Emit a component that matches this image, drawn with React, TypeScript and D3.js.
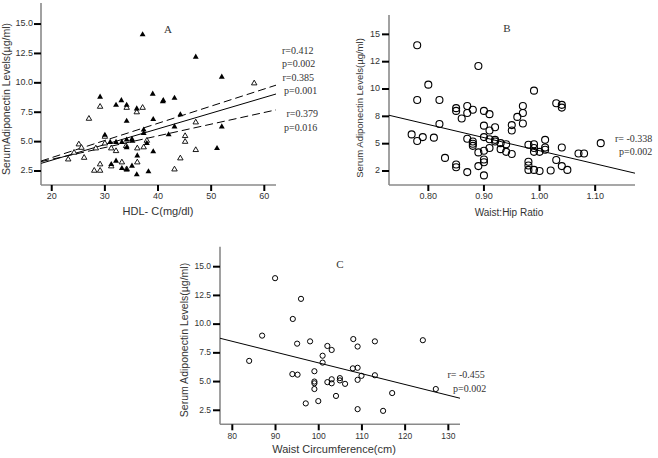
import React from 'react';
import * as d3 from 'd3';

// ---------- Panel A: HDL-C vs adiponectin ----------
const hdlFilled: [number, number][] = [
  [37.1, 14.1], [29.1, 8.8], [32.1, 8.1], [33.1, 8.5], [34.1, 8.1], [36.0, 7.8], [39.0, 9.05],
  [41.0, 8.5], [40.9, 8.4], [47.1, 12.2], [52.0, 10.5], [43.1, 8.7], [44.2, 7.3], [34.1, 6.75],
  [39.1, 6.9], [30.0, 5.56], [37.3, 6.0], [37.3, 5.7], [42.0, 5.6], [31.0, 4.95], [32.1, 4.95],
  [33.2, 4.95], [34.1, 5.15], [35.1, 5.2], [34.1, 4.5], [37.9, 4.85], [39.1, 4.15], [31.2, 3.07],
  [32.1, 3.35], [33.2, 2.73], [34.1, 2.6], [35.1, 2.93], [36.1, 3.8], [36.0, 2.2], [38.2, 2.45],
  [43.1, 6.27], [52.0, 6.27], [51.1, 4.43], [35.2, 5.05],
];
const hdlOpen: [number, number][] = [
  [29.1, 7.97], [34.1, 7.88], [36.0, 7.5], [37.1, 7.88], [27.0, 6.95], [58.1, 9.96], [30.0, 5.42],
  [34.0, 4.63], [37.9, 5.08], [25.1, 4.77], [25.6, 4.48], [24.2, 4.06], [23.1, 3.49],
  [26.1, 3.63], [28.3, 4.43], [30.0, 4.85], [31.2, 4.43], [32.1, 4.2], [36.1, 4.43], [37.3, 4.52],
  [29.1, 3.07], [28.0, 2.53], [29.1, 2.53], [31.2, 2.9], [33.2, 3.24], [34.1, 2.66], [36.1, 3.24],
  [47.1, 6.64], [45.1, 5.48], [45.1, 4.99], [47.1, 4.29], [44.2, 3.58], [43.1, 2.64],
];
const regAUpperX = [18, 62.2];
const regAUpperY = [3.35, 9.8];
const regASolidX = [18, 62.2];
const regASolidY = [3.15, 9.05];
const regALowerX = [18, 62.2];
const regALowerY = [3.3, 7.7];
const aXTicks = [20, 30, 40, 50, 60];
const aYTicks = [2.5, 5, 7.5, 10, 12.5, 15];
const aYTickLabels = ['2.5', '5.0', '7.5', '10.0', '12.5', '15.0'];
const aStats = ['r=0.412', 'p=0.002', 'r=0.385', 'p=0.001', 'r=0.379', 'p=0.016'];

// ---------- Panel B: Waist:Hip ratio ----------
const waistHip: [number, number][] = [
  [0.78, 14.0], [0.89, 12.1], [0.80, 10.4], [0.78, 9.0], [0.82, 9.0], [0.85, 8.25], [0.85, 8.0],
  [0.87, 8.45], [0.88, 8.1], [0.87, 7.8], [0.90, 8.0], [0.91, 7.7], [0.86, 7.3], [0.99, 9.85],
  [1.03, 8.7], [1.04, 8.55], [1.04, 8.3], [0.97, 8.45], [0.97, 7.8], [0.96, 7.45], [0.77, 5.85],
  [0.78, 5.25], [0.79, 5.6], [0.81, 5.55], [0.82, 6.8], [0.83, 3.7], [0.85, 3.1], [0.85, 2.85],
  [0.87, 2.4], [0.87, 5.45], [0.88, 5.2], [0.88, 5.0], [0.88, 4.8], [0.89, 4.2], [0.89, 2.95],
  [0.90, 2.1], [0.90, 3.55], [0.90, 3.3], [0.90, 4.35], [0.91, 4.6], [0.90, 6.65], [0.91, 6.2],
  [0.92, 6.5], [0.90, 5.6], [0.91, 5.4], [0.92, 5.35], [0.97, 6.85], [0.95, 6.7], [0.95, 6.2],
  [0.92, 5.2], [0.93, 5.05], [0.94, 4.95], [0.93, 4.5], [0.94, 4.25], [0.95, 4.05], [0.98, 4.9],
  [0.99, 4.95], [0.99, 4.6], [0.99, 4.25], [1.0, 4.25], [1.01, 5.35], [1.01, 4.65], [1.01, 4.45],
  [0.98, 3.35], [0.98, 3.0], [0.99, 2.6], [0.98, 2.6], [1.0, 2.5], [1.02, 2.55], [1.03, 3.5],
  [1.04, 2.95], [1.05, 2.6], [1.04, 4.65], [1.07, 4.1], [1.08, 4.1], [1.11, 5.05],
];
const regBX = [0.7293, 1.1716];
const regBY = [7.6, 2.3];
const bXTicks = [0.8, 0.9, 1.0, 1.1];
const bXTickLabels = ['0.80', '0.90', '1.00', '1.10'];
const bYTicks = [2.5, 5, 7.5, 10, 12.5, 15];
const bYTickLabels = ['2', '5', '8', '10', '12', '15'];
const bStats = ['r= -0.338', 'p=0.002'];

// ---------- Panel C: Waist circumference ----------
const waistCirc: [number, number][] = [
  [89.9, 14.0], [95.9, 12.2], [94.0, 10.45], [86.9, 9.0], [95.0, 8.3], [98.0, 8.5], [102.0, 8.1],
  [108.0, 8.7], [113.0, 8.5], [124.1, 8.6], [109.0, 8.05], [103.0, 7.75], [83.9, 6.8],
  [100.9, 7.25], [100.9, 6.65], [93.9, 5.65], [95.1, 5.6], [99.0, 5.9], [99.0, 5.0], [99.0, 4.85],
  [99.0, 4.35], [102.0, 4.95], [103.0, 5.2], [103.0, 4.85], [97.0, 3.1], [99.9, 3.3],
  [104.0, 3.75], [107.9, 6.15], [109.0, 6.2], [109.9, 5.5], [113.0, 5.55], [109.0, 5.15],
  [104.9, 5.3], [104.9, 5.1], [106.1, 4.8], [109.0, 2.6], [114.9, 2.45], [117.0, 4.0],
  [127.1, 4.35],
];
const regCX = [77.15, 132.7];
const regCY = [8.77, 3.55];
const cXTicks = [80, 90, 100, 110, 120, 130];
const cYTicks = [2.5, 5, 7.5, 10, 12.5, 15];
const cYTickLabels = ['2.5', '5.0', '7.5', '10.0', '12.5', '15.0'];
const cStats = ['r= -0.455', 'p=0.002'];

const SANS = '"Liberation Sans", Arial, sans-serif';
const SERIF = '"Liberation Serif", "Times New Roman", serif';
const AXIS_COL = '#8a8a8a';
const TXT = '#333';

type Lin = d3.ScaleLinear<number, number>;

function Axes({ x, y, xTicks, xLabels, yTicks, yLabels, fs, yLabelGap }: {
  x: Lin; y: Lin; xTicks: number[]; xLabels: string[]; yTicks: number[]; yLabels: string[]; fs: number; yLabelGap: number;
}) {
  const [x0, x1] = x.range();
  const [y0, y1] = y.range();
  return (
    <g>
      <line x1={x0} x2={x1} y1={y0} y2={y0} stroke={AXIS_COL} strokeWidth={1.6} />
      <line x1={x0} x2={x0} y1={y0} y2={y1} stroke={AXIS_COL} strokeWidth={1.6} />
      {xTicks.map((t, i) => (
        <g key={'x' + i}>
          <line x1={x(t)} x2={x(t)} y1={y0} y2={y0 + 6} stroke="#000" strokeWidth={2} />
          <text x={x(t)} y={y0 + 12} fontSize={fs} fill={TXT} textAnchor="middle" dominantBaseline="middle" fontFamily={SANS}>{xLabels[i]}</text>
        </g>
      ))}
      {yTicks.map((t, i) => (
        <g key={'y' + i}>
          <line x1={x0 - 7} x2={x0} y1={y(t)} y2={y(t)} stroke="#000" strokeWidth={2} />
          <text x={x0 - yLabelGap} y={y(t)} fontSize={fs} fill={TXT} textAnchor="end" dominantBaseline="middle" fontFamily={SANS}>{yLabels[i]}</text>
        </g>
      ))}
    </g>
  );
}

function RegLine({ x, y, xs, ys, dash, w }: { x: Lin; y: Lin; xs: number[]; ys: number[]; dash?: string; w?: number }) {
  const pts = xs.map((v, i) => [v, ys[i]] as [number, number]);
  const path = d3.line<[number, number]>().x(d => x(d[0])).y(d => y(d[1]))(pts) || '';
  return <path d={path} fill="none" stroke="#000" strokeWidth={w ?? 1} strokeDasharray={dash} />;
}

export default function App() {
  // Panel A scales
  const ax = d3.scaleLinear().domain([17.98, 62.2]).range([41, 276]);
  const ay = d3.scaleLinear().domain([1.31, 16.79]).range([185, 3]);
  // Panel B scales
  const bx = d3.scaleLinear().domain([0.7293, 1.1716]).range([389, 635]);
  const by = d3.scaleLinear().domain([1.22, 16.77]).range([185, 15]);
  // Panel C scales
  const cx = d3.scaleLinear().domain([77.15, 132.7]).range([220, 460]);
  const cy = d3.scaleLinear().domain([1.28, 16.74]).range([424.3, 246.7]);

  const tri = d3.symbol(d3.symbolTriangle, 15)() || '';
  const triOpen = d3.symbol(d3.symbolTriangle, 13)() || '';

  const aStatPos = [51.7, 65, 79, 92, 115, 129];
  const aStatX = [282, 282, 282.5, 284, 286.5, 284];

  return (
    <svg width={658} height={458} style={{ position: 'absolute', left: 0, top: 0, background: '#fff' }}>
      <rect width={658} height={458} fill="#fff" />
      {/* Panel A */}
      <Axes x={ax} y={ay} xTicks={aXTicks} xLabels={aXTicks.map(String)} yTicks={aYTicks} yLabels={aYTickLabels} fs={9} yLabelGap={8} />
      <RegLine x={ax} y={ay} xs={regAUpperX} ys={regAUpperY} dash="8,4" />
      <RegLine x={ax} y={ay} xs={regASolidX} ys={regASolidY} />
      <RegLine x={ax} y={ay} xs={regALowerX} ys={regALowerY} dash="8,4" />
      {hdlOpen.map((d, i) => (
        <path key={'ao' + i} d={triOpen} transform={`translate(${ax(d[0])},${ay(d[1])})`} fill="#fff" stroke="#000" strokeWidth={0.9} />
      ))}
      {hdlFilled.map((d, i) => (
        <path key={'af' + i} d={tri} transform={`translate(${ax(d[0])},${ay(d[1])})`} fill="#000" />
      ))}
      <text x={168} y={30} fontSize={11} fontFamily={SERIF} fill={TXT} textAnchor="middle" dominantBaseline="middle">A</text>
      {aStats.map((s, i) => (
        <text key={'as' + i} x={aStatX[i]} y={aStatPos[i]} fontSize={10} fontFamily={SERIF} fill={TXT} dominantBaseline="middle">{s}</text>
      ))}
      <text x={158} y={212} fontSize={11} fontFamily={SANS} fill={TXT} textAnchor="middle" dominantBaseline="middle">HDL- C(mg/dl)</text>
      <text transform="translate(7,99) rotate(-90)" fontSize={10.5} fontFamily={SANS} fill={TXT} textAnchor="middle" dominantBaseline="middle">SerumAdiponectin Levels(µg/ml)</text>

      {/* Panel B */}
      <Axes x={bx} y={by} xTicks={bXTicks} xLabels={bXTickLabels} yTicks={bYTicks} yLabels={bYTickLabels} fs={9} yLabelGap={9} />
      <RegLine x={bx} y={by} xs={regBX} ys={regBY} />
      {waistHip.map((d, i) => (
        <circle key={'b' + i} cx={bx(d[0])} cy={by(d[1])} r={3.5} fill="none" stroke="#000" strokeWidth={1.1} />
      ))}
      <text x={507} y={29} fontSize={11} fontFamily={SERIF} fill={TXT} textAnchor="middle" dominantBaseline="middle">B</text>
      <text x={615} y={140} fontSize={10} fontFamily={SERIF} fill={TXT} dominantBaseline="middle">{bStats[0]}</text>
      <text x={619} y={153} fontSize={10} fontFamily={SERIF} fill={TXT} dominantBaseline="middle">{bStats[1]}</text>
      <text x={509} y={213} fontSize={10} fontFamily={SANS} fill={TXT} textAnchor="middle" dominantBaseline="middle">Waist:Hip Ratio</text>
      <text transform="translate(360,108) rotate(-90)" fontSize={9.5} fontFamily={SANS} fill={TXT} textAnchor="middle" dominantBaseline="middle">Serum Adiponectin Levels(µg/ml)</text>

      {/* Panel C */}
      <Axes x={cx} y={cy} xTicks={cXTicks} xLabels={cXTicks.map(String)} yTicks={cYTicks} yLabels={cYTickLabels} fs={8.5} yLabelGap={9} />
      <RegLine x={cx} y={cy} xs={regCX} ys={regCY} />
      {waistCirc.map((d, i) => (
        <circle key={'c' + i} cx={cx(d[0])} cy={cy(d[1])} r={2.6} fill="none" stroke="#000" strokeWidth={1} />
      ))}
      <text x={340} y={265} fontSize={11} fontFamily={SERIF} fill={TXT} textAnchor="middle" dominantBaseline="middle">C</text>
      <text x={447.5} y={375.7} fontSize={10} fontFamily={SERIF} fill={TXT} dominantBaseline="middle">{cStats[0]}</text>
      <text x={453} y={390} fontSize={10} fontFamily={SERIF} fill={TXT} dominantBaseline="middle">{cStats[1]}</text>
      <text x={334} y={450} fontSize={11} fontFamily={SANS} fill={TXT} textAnchor="middle" dominantBaseline="middle">Waist Circumference(cm)</text>
      <text transform="translate(185,340) rotate(-90)" fontSize={10.5} fontFamily={SANS} fill={TXT} textAnchor="middle" dominantBaseline="middle">Serum Adiponectin Levels(µg/ml)</text>
    </svg>
  );
}
